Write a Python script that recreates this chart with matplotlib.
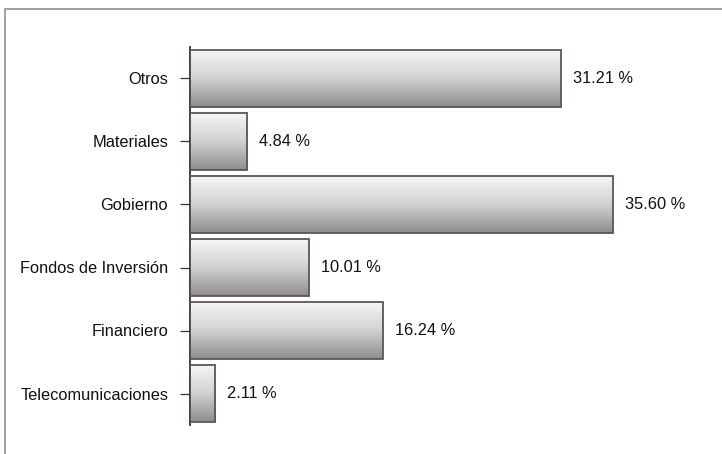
import matplotlib

matplotlib.use("Agg")
import matplotlib.pyplot as plt
import numpy as np
from matplotlib.colors import LinearSegmentedColormap
from matplotlib.patches import Rectangle

plt.rcParams["font.family"] = ["Liberation Sans", "DejaVu Sans"]

categories = ["Telecomunicaciones", "Financiero", "Fondos de Inversión",
              "Gobierno", "Materiales", "Otros"]
values = [2.11, 16.24, 10.01, 35.60, 4.84, 31.21]

W, H = 722, 454
fig = plt.figure(figsize=(W / 100, H / 100), dpi=100)

# outer grey frame, opens past the right and bottom edges
fig.add_artist(Rectangle((5 / W, -0.1), 2.0, 1 - 9 / H + 0.1,
                         transform=fig.transFigure, fill=False,
                         edgecolor="#a0a0a0", linewidth=1.4))

ax = fig.add_axes([190 / W, 1 - 425 / H, 510 / W, 378 / H])

grad_cmap = LinearSegmentedColormap.from_list("bar", ["#f6f6f6", "#d2d2d2", "#8e8e8e"])
grad = np.linspace(0, 1, 100).reshape(-1, 1)
height = 0.92
bars = ax.barh(range(len(categories)), values, height=height,
               facecolor="none", edgecolor="#5e5454", linewidth=1.3, zorder=3)
for bar, v in zip(bars, values):
    y0 = bar.get_y()
    ax.imshow(grad, cmap=grad_cmap, aspect="auto", origin="upper",
              extent=(0, v, y0, y0 + height), zorder=2)
    ax.text(v + 1.0, y0 + height / 2, f"{v:.2f} %",
            va="center", ha="left", fontsize=11.8, color="#111111")

ax.set_yticks(range(len(categories)))
ax.set_yticklabels(categories, fontsize=11.8, color="#111111")
ax.tick_params(axis="y", length=7.2, width=0.9, color="#333333", pad=8.5)
ax.set_xticks([])
for side in ("top", "right", "bottom"):
    ax.spines[side].set_visible(False)
ax.spines["left"].set_color("#333333")
ax.spines["left"].set_linewidth(1.3)
ax.set_xlim(0, 510 / 11.88)
ax.set_ylim(-0.5, len(categories) - 0.5)

fig.savefig("out.png", dpi=100)
